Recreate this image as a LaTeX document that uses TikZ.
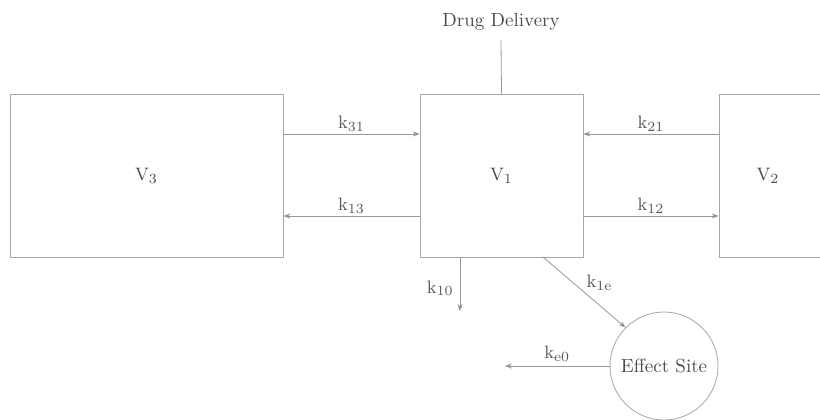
\documentclass[tikz,border=0pt]{standalone}
\usetikzlibrary{arrows.meta}
\begin{document}
\begin{tikzpicture}[x=0.5pt,y=-0.5pt,font=\fontsize{9.5}{11}\selectfont,
  comp/.style={draw=black!35,line width=0.4pt,minimum height=81.5pt,inner sep=0pt,text=black!70},
  flow/.style={draw=black!40,line width=0.4pt,-{Stealth[length=3.5pt,width=2.5pt,fill=black]}},
  lbl/.style={text=black!65,inner sep=1pt}]
\clip (0,0) rectangle (820,419);
\fill[white] (0,0) rectangle (820,419);
\node[comp,minimum width=136.5pt] (v3) at (146.5,175.5) {$\mathrm{V}_3$};
\node[comp,minimum width=81.5pt] (v1) at (501.5,175.5) {$\mathrm{V}_1$};
\node[comp,minimum width=81.5pt] (v2) at (800.5,175.5) {};
\node[text=black!70] (v2t) at (768,175.5) {$\mathrm{V}_2$};
\node[draw=black!35,line width=0.4pt,circle,minimum size=54pt,text=black!70,inner sep=0pt] (es) at (664,366) {Effect Site};
\node[text=black!70] (dd) at (501,22) {Drug Delivery};
\draw[draw=black!40,line width=0.4pt] (dd.south |- 0,40) -- (v1.north);
% V3 <-> V1
\draw[flow] (v3.east |- 0,134) -- node[lbl,above] {$\mathrm{k}_{31}$} (v1.west |- 0,134);
\draw[flow] (v1.west |- 0,216) -- node[lbl,above] {$\mathrm{k}_{13}$} (v3.east |- 0,216);
% V2 <-> V1
\draw[flow] (v2.west |- 0,134) -- node[lbl,above] {$\mathrm{k}_{21}$} (v1.east |- 0,134);
\draw[flow] (v1.east |- 0,216) -- node[lbl,above] {$\mathrm{k}_{12}$} (v2.west |- 0,216);
% elimination
\coordinate (out10) at (460,311);
\draw[flow] (v1.south -| out10) -- node[lbl,left,xshift=-2pt,yshift=-2pt] {$\mathrm{k}_{10}$} (out10);
\draw[flow] (543,257) -- node[lbl,above right,xshift=2pt,yshift=-2pt,pos=0.45] {$\mathrm{k}_{1\mathrm{e}}$} (es.135);
\coordinate (oute0) at (505,366);
\draw[flow] (es.west) -- node[lbl,above,yshift=1pt] {$\mathrm{k}_{\mathrm{e}0}$} (oute0);
\end{tikzpicture}
\end{document}
